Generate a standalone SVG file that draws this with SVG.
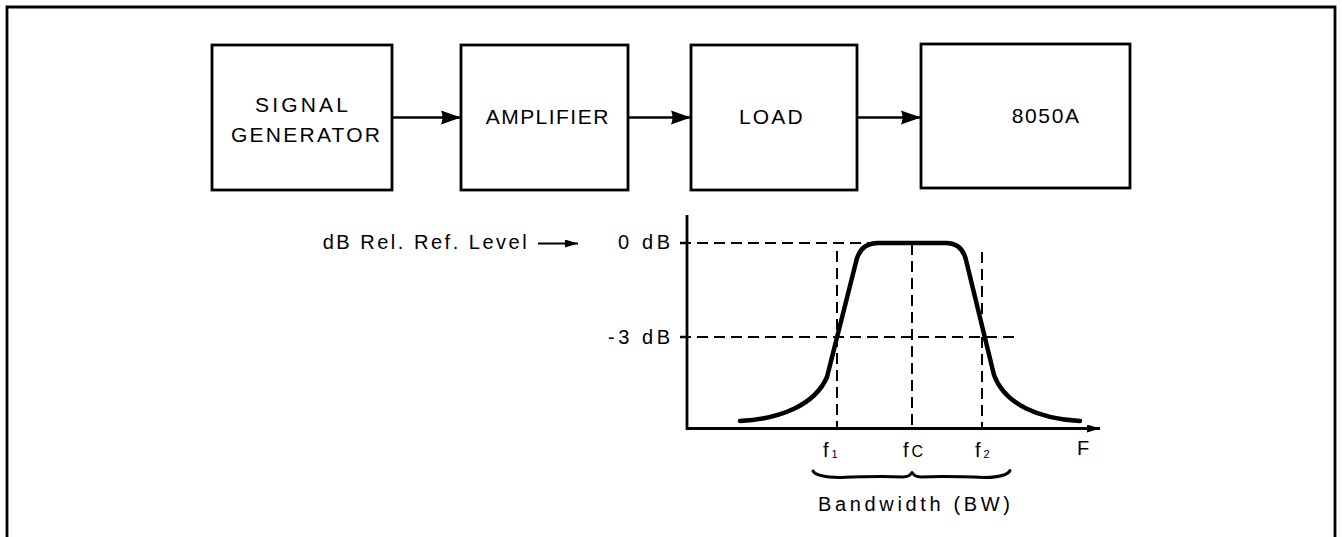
<svg xmlns="http://www.w3.org/2000/svg" width="1342" height="537" viewBox="0 0 1342 537">
<style>
.box{fill:#fff;stroke:#000;stroke-width:2.8}
.lbl{font-family:"Liberation Sans",Arial,sans-serif;font-size:21px;fill:#000}
.g{font-family:"Liberation Sans",Arial,sans-serif;font-size:20px;fill:#000}
.conn{stroke:#000;stroke-width:2.5;fill:none}
.dash{stroke:#000;stroke-width:2;stroke-dasharray:11 6;fill:none}
.ax{stroke:#000;stroke-width:2.8;fill:none}
</style>
<defs>
<marker id="ah" markerWidth="20" markerHeight="16" refX="20" refY="8" orient="auto" markerUnits="userSpaceOnUse">
<path d="M0,1 L20,8 L0,15 Q3,8 0,1 Z" fill="#000"/>
</marker>
<marker id="sah" markerWidth="13" markerHeight="8" refX="13" refY="4" orient="auto" markerUnits="userSpaceOnUse">
<path d="M0,0 L13,4 L0,8 Z" fill="#000"/>
</marker>
</defs>
<rect width="1342" height="537" fill="#fff"/>
<path d="M7,537 L7,7 L1335,7 L1335,537" class="ax"/>

<g id="signal-generator">
<rect class="box" x="212" y="45" width="180" height="145"/>
<text class="lbl" x="255" y="111.7" textLength="93" lengthAdjust="spacing">SIGNAL</text>
<text class="lbl" x="231" y="141.7" textLength="149" lengthAdjust="spacing">GENERATOR</text>
</g>
<g id="amplifier">
<rect class="box" x="461" y="45" width="167" height="145"/>
<text class="lbl" x="485.7" y="124" textLength="122.6" lengthAdjust="spacing">AMPLIFIER</text>
</g>
<g id="load">
<rect class="box" x="691" y="45" width="166" height="145"/>
<text class="lbl" x="739" y="124" textLength="63.7" lengthAdjust="spacing">LOAD</text>
</g>
<g id="dvm-8050a">
<rect class="box" x="921" y="44" width="209" height="144"/>
<text class="lbl" x="1011.7" y="122.5" textLength="67.3" lengthAdjust="spacing">8050A</text>
</g>

<g id="connectors">
<line class="conn" x1="392" y1="117.5" x2="461" y2="117.5" marker-end="url(#ah)"/>
<line class="conn" x1="628" y1="117.5" x2="691" y2="117.5" marker-end="url(#ah)"/>
<line class="conn" x1="857" y1="117.5" x2="921" y2="117.5" marker-end="url(#ah)"/>
</g>

<g id="graph">
<text class="g" x="322.7" y="249" textLength="204" lengthAdjust="spacing">dB Rel. Ref. Level</text>
<line x1="538" y1="243.5" x2="578" y2="243.5" stroke="#000" stroke-width="2" marker-end="url(#sah)"/>
<text class="g" x="618" y="249" textLength="52" lengthAdjust="spacing">0 dB</text>
<text class="g" x="608" y="343.5" textLength="62" lengthAdjust="spacing">-3 dB</text>
<line class="dash" x1="680" y1="243" x2="912" y2="243"/>
<line class="dash" x1="680" y1="337" x2="1018" y2="337"/>
<line class="dash" x1="837" y1="251" x2="837" y2="428"/>
<line class="dash" x1="912" y1="244" x2="912" y2="428"/>
<line class="dash" x1="982" y1="252" x2="982" y2="428"/>
<line x1="680" y1="243" x2="688" y2="243" stroke="#000" stroke-width="2.5"/>
<line x1="680" y1="337" x2="688" y2="337" stroke="#000" stroke-width="2.5"/>
<path class="ax" d="M687,215 L687,428.5 L1100,428.5" marker-end="url(#sah)"/>
<path d="M740,421 C780,419 815,405 827,377 L856,262 Q860,243 878,243 L946,243 Q962,243 966,260 L994,375 C1005,405 1040,419 1080,421" fill="none" stroke="#000" stroke-width="4.5" stroke-linecap="round" stroke-linejoin="round"/>
<text class="g" x="823" y="456.7">f<tspan font-size="11" dx="3" dy="1">1</tspan></text>
<text class="g" x="903" y="456.7">f<tspan font-size="16" dx="3">C</tspan></text>
<text class="g" x="975" y="456.7">f<tspan font-size="11" dx="3" dy="1">2</tspan></text>
<text class="g" x="1077" y="455">F</text>
<path d="M813,471 Q816,477 840,477.5 Q880,476 903,477 Q909,477 912,472.5 Q915,477 921,477 Q945,476 985,477.5 Q1007,477 1010,470.5" fill="none" stroke="#000" stroke-width="3" stroke-linecap="round" stroke-linejoin="round"/>
<text class="g" x="818" y="510.7" font-size="21" textLength="192" lengthAdjust="spacing">Bandwidth (BW)</text>
</g>
</svg>
